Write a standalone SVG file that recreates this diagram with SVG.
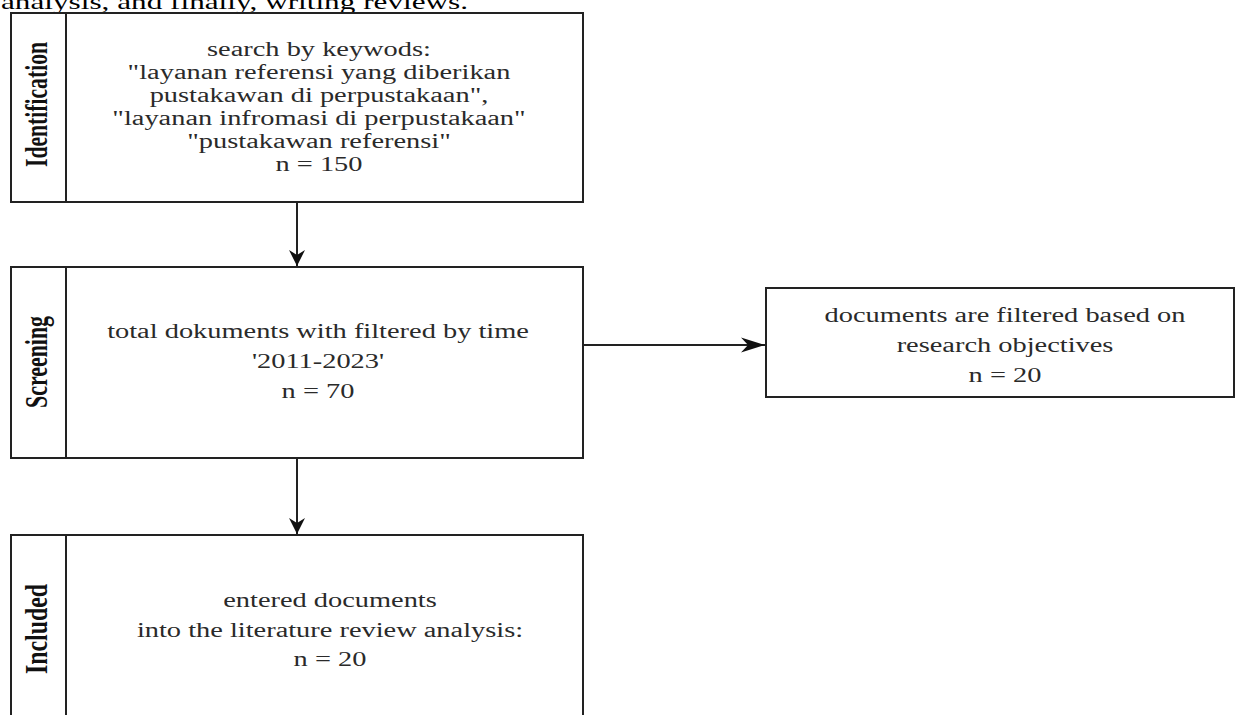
<svg xmlns="http://www.w3.org/2000/svg" width="1238" height="715" viewBox="0 0 1238 715">
<style>
.box{fill:#fff;stroke:#222;stroke-width:2}
.div{stroke:#222;stroke-width:2}
.t{font-family:"Liberation Serif","Times New Roman",serif;font-size:20px;fill:#2a2a2a;text-anchor:middle}
.lab{font-family:"Liberation Serif","Times New Roman",serif;font-size:21.6px;font-weight:bold;fill:#111;text-anchor:middle}
.body{font-family:"Liberation Serif","Times New Roman",serif;font-size:22px;fill:#000}
.edge{stroke:#222;stroke-width:2;fill:none}
</style>
<defs>
<marker id="ah" markerWidth="18" markerHeight="18" refX="16" refY="9" orient="auto" markerUnits="userSpaceOnUse">
<path d="M0,1 L16,9 L0,17 L5,9 Z" fill="#111"/>
</marker>
<marker id="ahh" markerWidth="26" markerHeight="18" refX="24" refY="9" orient="auto" markerUnits="userSpaceOnUse">
<path d="M0,1.5 L24,9 L0,16.5 L7,9 Z" fill="#111"/>
</marker>
</defs>
<rect width="1238" height="715" fill="#fff"/>
<text class="body" transform="translate(1 9) scale(1.42 1)">analysis, and finally, writing reviews.</text>

<g id="identification">
<rect class="box" x="11" y="13" width="572" height="189"/>
<line class="div" x1="66" y1="13" x2="66" y2="202"/>
<text class="lab" textLength="125" lengthAdjust="spacingAndGlyphs" transform="translate(47 104.5) scale(1.42 1) rotate(-90)">Identification</text>
<text class="t" transform="translate(319 56) scale(1.42 1)">search by keywods:</text>
<text class="t" transform="translate(319 79) scale(1.42 1)">"layanan referensi yang diberikan</text>
<text class="t" transform="translate(319 102) scale(1.42 1)">pustakawan di perpustakaan",</text>
<text class="t" transform="translate(319 125) scale(1.42 1)">"layanan infromasi di perpustakaan"</text>
<text class="t" transform="translate(319 148) scale(1.42 1)">"pustakawan referensi"</text>
<text class="t" transform="translate(319 171) scale(1.42 1)">n = 150</text>
</g>

<g id="screening">
<rect class="box" x="11" y="267" width="572" height="191"/>
<line class="div" x1="66" y1="267" x2="66" y2="458"/>
<text class="lab" textLength="92" lengthAdjust="spacingAndGlyphs" transform="translate(47 362) scale(1.42 1) rotate(-90)">Screening</text>
<text class="t" transform="translate(318 338) scale(1.42 1)">total dokuments with filtered by time</text>
<text class="t" transform="translate(318 368) scale(1.42 1)">'2011-2023'</text>
<text class="t" transform="translate(318 398) scale(1.42 1)">n = 70</text>
</g>

<g id="excluded">
<rect class="box" x="766" y="288" width="468" height="109"/>
<text class="t" transform="translate(1005 322) scale(1.42 1)">documents are filtered based on</text>
<text class="t" transform="translate(1005 352) scale(1.42 1)">research objectives</text>
<text class="t" transform="translate(1005 382) scale(1.42 1)">n = 20</text>
</g>

<g id="included">
<rect class="box" x="11" y="535" width="572" height="200"/>
<line class="div" x1="66" y1="535" x2="66" y2="715"/>
<text class="lab" textLength="90" lengthAdjust="spacingAndGlyphs" transform="translate(47 629) scale(1.42 1) rotate(-90)">Included</text>
<text class="t" transform="translate(330 607) scale(1.42 1)">entered documents</text>
<text class="t" transform="translate(330 637) scale(1.42 1)">into the literature review analysis:</text>
<text class="t" transform="translate(330 666) scale(1.42 1)">n = 20</text>
</g>

<g id="connectors">
<line class="edge" x1="297" y1="202" x2="297" y2="266" marker-end="url(#ah)"/>
<line class="edge" x1="583" y1="345" x2="765" y2="345" marker-end="url(#ahh)"/>
<line class="edge" x1="297" y1="458" x2="297" y2="534" marker-end="url(#ah)"/>
</g>
</svg>
